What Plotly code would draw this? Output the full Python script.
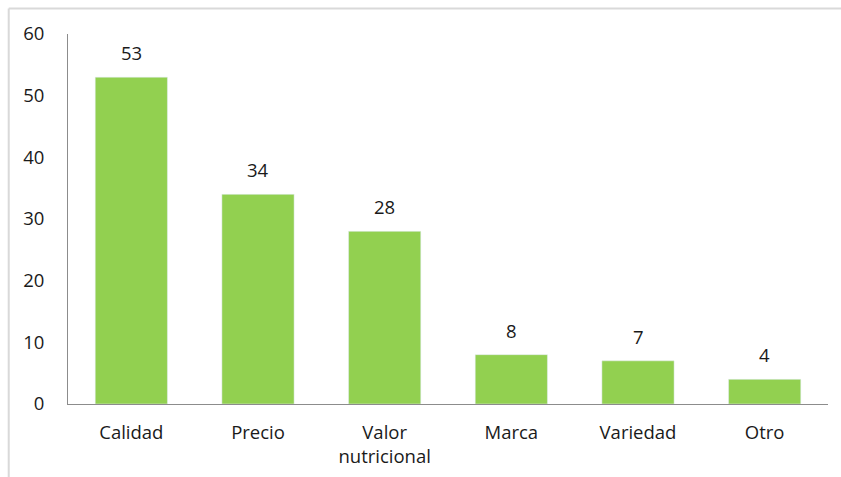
import plotly.graph_objects as go

categories = ["Calidad", "Precio", "Valor<br>nutricional", "Marca", "Variedad", "Otro"]
values = [53, 34, 28, 8, 7, 4]
y_ticks = [0, 10, 20, 30, 40, 50, 60]

font_family = "Open Sans, DejaVu Sans, sans-serif"
text_color = "#1A1A1A"
font_size = 18.5

fig = go.Figure(
    go.Bar(
        x=categories,
        y=values,
        marker_color="#92D050",
        width=0.57,
        hoverinfo="x+y",
    )
)

# value labels above each bar
for cat, val in zip(categories, values):
    fig.add_annotation(
        x=cat, y=val, text=str(val), showarrow=False,
        yanchor="bottom", yshift=10,
        font=dict(family=font_family, size=font_size, color=text_color),
    )

# light frame around the chart area (top and left edges)
fig.add_shape(type="line", xref="paper", yref="paper",
              x0=-0.078, x1=1.02, y0=1.069, y1=1.069,
              line=dict(color="#D9D9D9", width=2))
fig.add_shape(type="line", xref="paper", yref="paper",
              x0=-0.078, x1=-0.078, y0=-0.3, y1=1.069,
              line=dict(color="#D9D9D9", width=2))

fig.update_layout(
    width=841, height=477,
    margin=dict(l=68, r=13, t=34, b=73),
    paper_bgcolor="white", plot_bgcolor="white",
    showlegend=False,
    font=dict(family=font_family, size=font_size, color=text_color),
    bargap=0.43,
)
fig.update_xaxes(
    showline=True, linecolor="#8C8C8C", linewidth=1,
    ticks="", showgrid=False, ticklabelstandoff=12, automargin=False,
    tickfont=dict(family=font_family, size=font_size, color=text_color),
)
fig.update_yaxes(
    range=[0, 60], tickvals=y_ticks, showgrid=False,
    showline=True, linecolor="#8C8C8C", linewidth=1,
    ticks="", ticklabelstandoff=19, zeroline=False, automargin=False,
    tickfont=dict(family=font_family, size=font_size, color=text_color),
)

fig.write_html("out.html")
